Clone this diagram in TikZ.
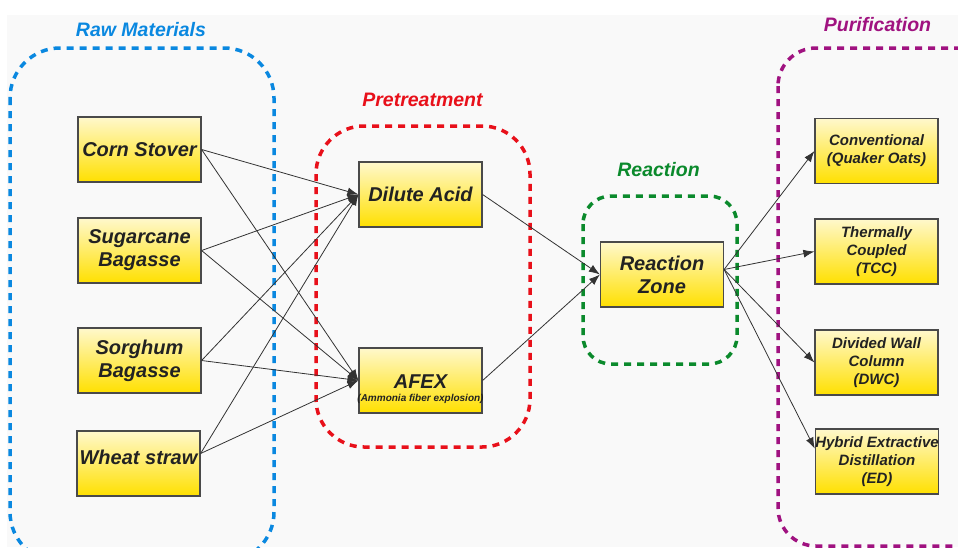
\documentclass[tikz,border=0pt]{standalone}
\usepackage{fontspec}
\setmainfont{Liberation Sans}
\usetikzlibrary{arrows.meta}
\definecolor{bgray}{HTML}{F9F9F9}
\definecolor{cblue}{HTML}{0A88E0}
\definecolor{cred}{HTML}{E8101A}
\definecolor{cgreen}{HTML}{0B8A2C}
\definecolor{cpurple}{HTML}{A01280}
\definecolor{boxtop}{HTML}{FFF8CC}
\definecolor{boxmid}{HTML}{FFEF88}
\definecolor{boxbot}{HTML}{FFE000}
\definecolor{boxline}{HTML}{4A4A4A}
\definecolor{txt}{HTML}{222222}
\definecolor{conn}{HTML}{333333}
\tikzset{
  box/.style={draw=boxline, line width=1.2pt, top color=boxtop, middle color=boxmid, bottom color=boxbot,
    minimum width=123pt, minimum height=65pt, inner sep=0pt, align=center, text=txt,
    font=\fontsize{20}{23}\selectfont\bfseries\itshape},
  pbox/.style={box, font=\fontsize{15}{18}\selectfont\bfseries\itshape},
  group/.style={dash pattern=on 7pt off 6pt, line width=3.5pt},
  gtitle/.style={anchor=base, font=\fontsize{19.5}{22}\selectfont\bfseries\itshape},
  conn/.style={draw=conn, line width=0.8pt, -{Latex[length=11pt,width=8pt]}}
}
\begin{document}
\begin{tikzpicture}[x=1pt,y=-1pt]
\useasboundingbox (0,0) rectangle (958,547);
\clip (0,0) rectangle (958,547);
\fill[white] (0,0) rectangle (958,547);
\fill[bgray] (7,15) rectangle (958,547);

% groups
\draw[group, cblue, rounded corners=50pt] (10,48) rectangle (274,562);
\draw[group, cred, rounded corners=48pt] (316,126) rectangle (530,447);
\draw[group, cgreen, rounded corners=28pt] (583,196) rectangle (737,364);
\draw[group, cpurple, rounded corners=38pt] (778,48) rectangle (1000,546);

\node[gtitle, text=cblue] (t1) at (141,36.7) {Raw Materials};
\node[gtitle, text=cred] (t2) at (422.5,106.7) {Pretreatment};
\node[gtitle, text=cgreen] (t3) at (658.5,176.7) {Reaction};
\node[gtitle, text=cpurple] (t4) at (877.5,31) {Purification};

% raw materials
\node[box] (corn) at (139.5,149.5) {Corn Stover};
\node[box] (sugar) at (139.5,250.5) {Sugarcane\\Bagasse};
\node[box] (sorg) at (139.5,360.5) {Sorghum\\Bagasse};
\node[box, text depth=12pt] (wheat) at (138.5,463.5) {Wheat straw};

% pretreatment
\node[box] (dilute) at (420.5,194.5) {Dilute Acid};
\node[box] (afex) at (420.5,380.5) {};
\node[text=txt, font=\fontsize{20}{23}\selectfont\bfseries\itshape] (afext) at (420.5,382) {AFEX};
\node[text=txt, font=\fontsize{10}{12}\selectfont\bfseries\itshape, inner sep=0pt] (afexsub) at (420.5,398.5) {(Ammonia fiber explosion)};

% reaction
\node[box] (rz) at (662,274.5) {Reaction\\Zone};

% purification
\node[pbox] (conv) at (876.5,151) {Conventional\\(Quaker Oats)};
\node[pbox] (tcc) at (876.5,251.5) {Thermally\\Coupled\\(TCC)};
\node[pbox] (dwc) at (876.5,362.5) {Divided Wall\\Column\\(DWC)};
\node[pbox] (ed) at (877,461.5) {Hybrid Extractive\\Distillation\\(ED)};

% connectors
\coordinate (wout) at ([yshift=10pt]wheat.east);
\foreach \s in {corn.east,sugar.east,sorg.east,wout}{
  \draw[conn] (\s) -- (dilute.west);
  \draw[conn] (\s) -- (afex.west);
}
\draw[conn] (dilute.east) -- (rz.west);
\draw[conn] (afex.east) -- (rz.west);
\coordinate (rzout) at ([yshift=5pt]rz.east);
\draw[conn] (rzout) -- (conv.west);
\draw[conn] (rzout) -- (tcc.west);
\draw[conn] (rzout) -- (dwc.west);
\draw[conn] (rzout) -- ([yshift=13pt]ed.west);
\end{tikzpicture}
\end{document}
